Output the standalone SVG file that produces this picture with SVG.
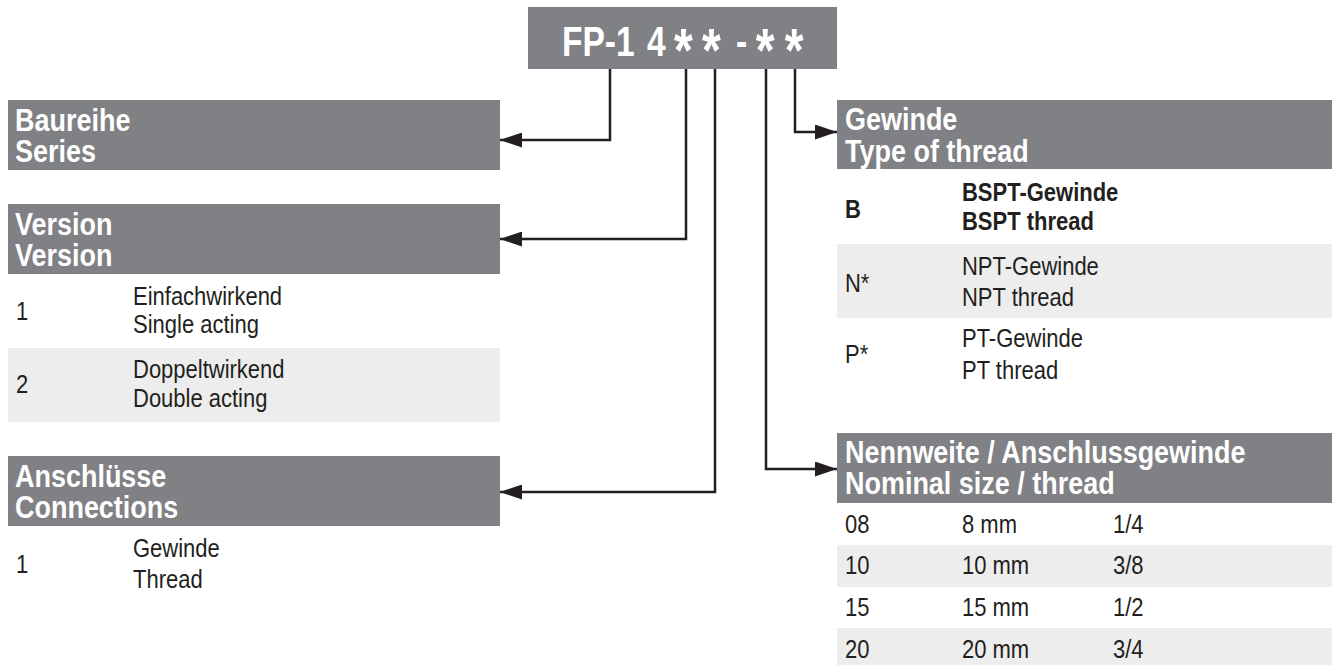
<svg xmlns="http://www.w3.org/2000/svg" width="1332" height="665" viewBox="0 0 1332 665">
<defs>
<style>
.hdr{fill:#808185}
.alt{fill:#ededed}
.ht{font-family:"Liberation Sans",Arial,sans-serif;font-weight:bold;font-size:31px;fill:#ffffff}
.bt{font-family:"Liberation Sans",Arial,sans-serif;font-size:25px;fill:#231f20}
.bb{font-weight:bold}
.title{font-family:"Liberation Sans",Arial,sans-serif;font-weight:bold;font-size:43px;fill:#ffffff}
.star{font-size:62px}
.conn{fill:none;stroke:#231f20;stroke-width:2.5;marker-end:url(#arr)}
</style>
<marker id="arr" markerUnits="userSpaceOnUse" markerWidth="22" markerHeight="15" refX="22" refY="7.5" orient="auto">
<path d="M0,0 L22,7.5 L0,15 Z" fill="#231f20"/>
</marker>
</defs>
<rect width="1332" height="665" fill="#ffffff"/>

<g id="code">
<rect class="hdr" x="528" y="7" width="309" height="62"/>
<g transform="scale(0.78 1)">
<text class="title" y="56"><tspan x="720.5">FP-1</tspan><tspan x="829.5">4</tspan><tspan class="star" x="864" y="71">*</tspan><tspan class="star" x="900" y="71">*</tspan><tspan x="943.6" y="56">-</tspan><tspan class="star" x="969" y="71">*</tspan><tspan class="star" x="1006" y="71">*</tspan></text>
</g>
</g>

<g id="connectors">
<path class="conn" d="M610,69 V140 H500"/>
<path class="conn" d="M686,69 V239 H500"/>
<path class="conn" d="M715,69 V492 H500"/>
<path class="conn" d="M766,69 V469 H837"/>
<path class="conn" d="M795,69 V132 H837"/>
</g>

<g id="baureihe">
<rect class="hdr" x="8" y="100" width="492" height="70"/>
<g transform="scale(0.87 1)">
<text class="ht" x="17.24" y="131">Baureihe</text>
<text class="ht" x="17.24" y="162">Series</text>
</g>
</g>

<g id="version">
<rect class="hdr" x="8" y="204" width="492" height="70"/>
<rect class="alt" x="8" y="348" width="492" height="74"/>
<g transform="scale(0.87 1)">
<text class="ht" x="17.24" y="235">Version</text>
<text class="ht" x="17.24" y="266">Version</text>
</g>
<g transform="scale(0.88 1)">
<text class="bt" x="18.18" y="320">1</text>
<text class="bt" x="151.14" y="305">Einfachwirkend</text>
<text class="bt" x="151.14" y="333">Single acting</text>
<text class="bt" x="18.18" y="393">2</text>
<text class="bt" x="151.14" y="378">Doppeltwirkend</text>
<text class="bt" x="151.14" y="407">Double acting</text>
</g>
</g>

<g id="anschluesse">
<rect class="hdr" x="8" y="456" width="492" height="70"/>
<g transform="scale(0.87 1)">
<text class="ht" x="17.24" y="487">Anschlüsse</text>
<text class="ht" x="17.24" y="518">Connections</text>
</g>
<g transform="scale(0.88 1)">
<text class="bt" x="18.18" y="573">1</text>
<text class="bt" x="151.14" y="557">Gewinde</text>
<text class="bt" x="151.14" y="588">Thread</text>
</g>
</g>

<g id="gewinde">
<rect class="hdr" x="837" y="100" width="495" height="69"/>
<rect class="alt" x="837" y="244" width="495" height="74"/>
<g transform="scale(0.87 1)">
<text class="ht" x="971.26" y="130">Gewinde</text>
<text class="ht" x="971.26" y="162">Type of thread</text>
</g>
<g transform="scale(0.88 1)">
<text class="bt bb" x="960.23" y="218">B</text>
<text class="bt bb" x="1093.18" y="201">BSPT-Gewinde</text>
<text class="bt bb" x="1093.18" y="230">BSPT thread</text>
<text class="bt" x="960.23" y="292">N*</text>
<text class="bt" x="1093.18" y="275">NPT-Gewinde</text>
<text class="bt" x="1093.18" y="306">NPT thread</text>
<text class="bt" x="960.23" y="363">P*</text>
<text class="bt" x="1093.18" y="347">PT-Gewinde</text>
<text class="bt" x="1093.18" y="379">PT thread</text>
</g>
</g>

<g id="nennweite">
<rect class="hdr" x="837" y="433" width="495" height="70"/>
<rect class="alt" x="837" y="545" width="495" height="42"/>
<rect class="alt" x="837" y="628" width="495" height="37"/>
<g transform="scale(0.87 1)">
<text class="ht" x="971.26" y="463">Nennweite / Anschlussgewinde</text>
<text class="ht" x="971.26" y="494">Nominal size / thread</text>
</g>
<g transform="scale(0.88 1)">
<text class="bt" x="960.23" y="533">08</text>
<text class="bt" x="1093.18" y="533">8 mm</text>
<text class="bt" x="1264.77" y="533">1/4</text>
<text class="bt" x="960.23" y="574">10</text>
<text class="bt" x="1093.18" y="574">10 mm</text>
<text class="bt" x="1264.77" y="574">3/8</text>
<text class="bt" x="960.23" y="616">15</text>
<text class="bt" x="1093.18" y="616">15 mm</text>
<text class="bt" x="1264.77" y="616">1/2</text>
<text class="bt" x="960.23" y="658">20</text>
<text class="bt" x="1093.18" y="658">20 mm</text>
<text class="bt" x="1264.77" y="658">3/4</text>
</g>
</g>
</svg>
